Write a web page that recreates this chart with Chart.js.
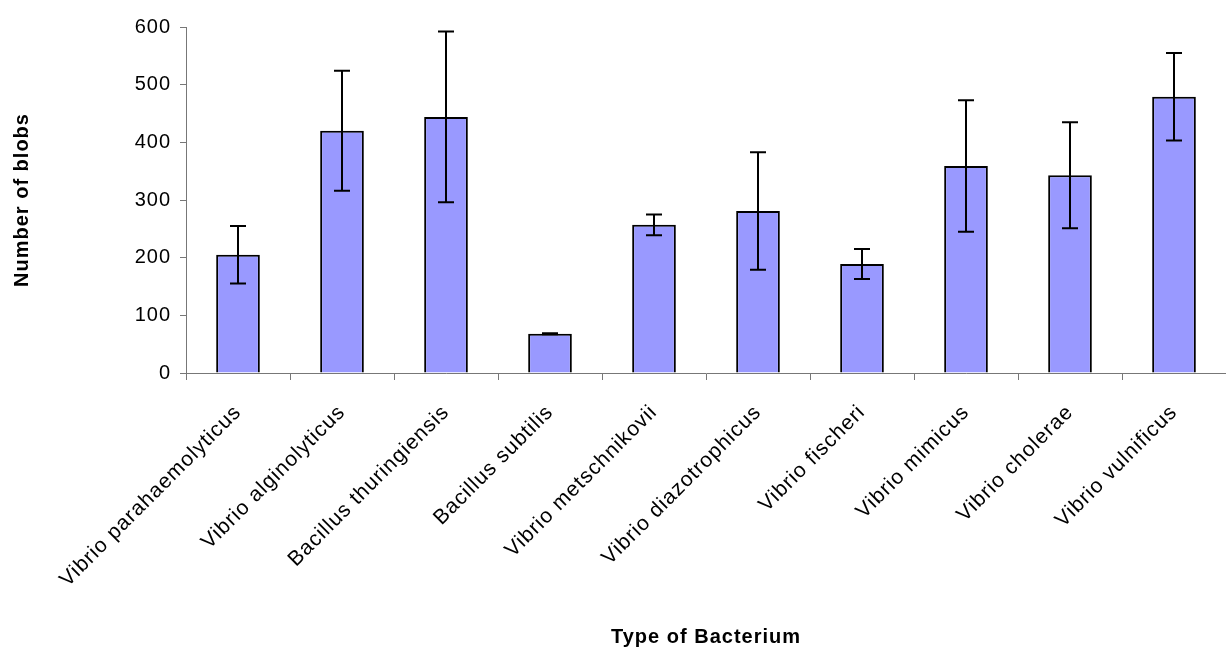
<!DOCTYPE html>
<html>
<head>
<meta charset="utf-8">
<script src="https://cdn.jsdelivr.net/npm/chart.js@4.4.1/dist/chart.umd.min.js"></script>
<style>
html,body{margin:0;padding:0;background:#fff;}
#wrap{width:1226px;height:650px;}
</style>
</head>
<body>
<div id="wrap"><canvas id="c" width="1226" height="650"></canvas></div>
<script>
const categories = [
  "Vibrio parahaemolyticus", "Vibrio alginolyticus", "Bacillus thuringiensis",
  "Bacillus subtilis", "Vibrio metschnikovii", "Vibrio diazotrophicus",
  "Vibrio fischeri", "Vibrio mimicus", "Vibrio cholerae", "Vibrio vulnificus"
];
const blobCounts = [205, 420, 444, 68, 257, 281, 189, 359, 343, 479];
const errorValues = [50, 104, 148, 1, 18, 102, 26, 114, 92, 76];
const yTicks = [0, 100, 200, 300, 400, 500, 600];

const FONT = "'Liberation Sans', Arial, sans-serif";

const spacingPlugin = {
  id: 'spacing',
  beforeLayout(chart) { chart.ctx.letterSpacing = '1px'; },
  beforeDraw(chart) { chart.ctx.letterSpacing = '1px'; }
};

const errorBarPlugin = {
  id: 'errorBars',
  afterDatasetsDraw(chart) {
    const ctx = chart.ctx;
    const meta = chart.getDatasetMeta(0);
    const y = chart.scales.y;
    ctx.save();
    ctx.strokeStyle = '#000';
    ctx.lineWidth = 2;
    meta.data.forEach((bar, i) => {
      const v = blobCounts[i], e = errorValues[i];
      const yTop = y.getPixelForValue(v + e);
      const yBot = y.getPixelForValue(v - e);
      const cap = 8;
      ctx.beginPath();
      ctx.moveTo(bar.x, yTop); ctx.lineTo(bar.x, yBot);
      ctx.moveTo(bar.x - cap, yTop); ctx.lineTo(bar.x + cap, yTop);
      ctx.moveTo(bar.x - cap, yBot); ctx.lineTo(bar.x + cap, yBot);
      ctx.stroke();
    });
    ctx.restore();
  }
};

new Chart(document.getElementById('c'), {
  type: 'bar',
  data: {
    labels: categories,
    datasets: [{
      data: blobCounts,
      backgroundColor: '#9999FF',
      borderColor: '#000',
      borderWidth: 2,
      barPercentage: 0.42,
      categoryPercentage: 1.0
    }]
  },
  options: {
    responsive: false,
    animation: false,
    devicePixelRatio: 1,
    layout: { padding: { top: 27, right: 0, bottom: 0, left: 0 } },
    plugins: { legend: { display: false }, tooltip: { enabled: false } },
    scales: {
      x: {
        grid: { drawOnChartArea: false, tickLength: 7, color: '#777', offset: true },
        border: { color: '#777', width: 1 },
        ticks: {
          minRotation: 45, maxRotation: 45, autoSkip: false,
          color: '#000', font: { family: FONT, size: 21 }, padding: 20
        },
        title: {
          display: true, text: 'Type of Bacterium', color: '#000',
          font: { family: FONT, size: 20, weight: 'bold' },
          padding: { top: 0, bottom: 1 }
        },
        afterFit(scale) { scale.height = 277; }
      },
      y: {
        min: 0, max: 600,
        afterBuildTicks(scale) { scale.ticks = yTicks.map(v => ({ value: v })); },
        grid: { drawOnChartArea: false, tickLength: 6, color: '#777' },
        border: { color: '#777', width: 1 },
        ticks: { color: '#000', font: { family: FONT, size: 20 }, padding: 9 },
        title: {
          display: true, text: 'Number of blobs', color: '#000',
          font: { family: FONT, size: 20, weight: 'bold' },
          padding: { top: 10, bottom: 0 }
        },
        afterFit(scale) { scale.width = 186; }
      }
    }
  },
  plugins: [spacingPlugin, errorBarPlugin]
});
</script>
</body>
</html>
